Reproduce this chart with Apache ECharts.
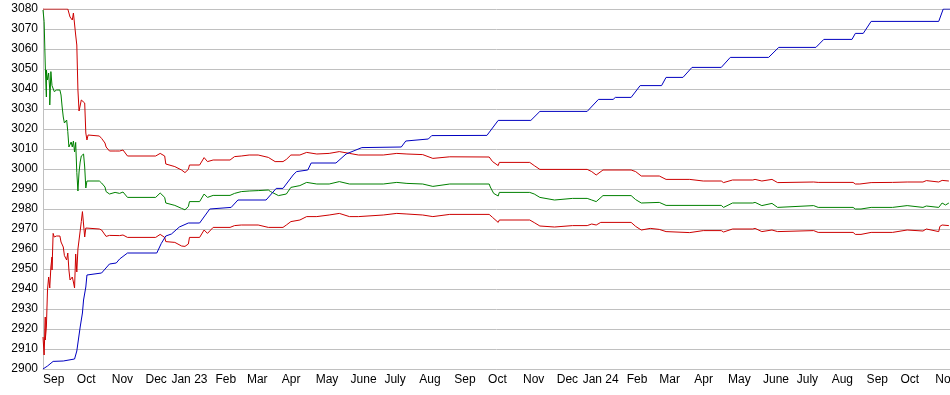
<!DOCTYPE html>
<html>
<head>
<meta charset="utf-8">
<script src="https://cdn.jsdelivr.net/npm/echarts@6/dist/echarts.min.js"></script>
<style>html,body{margin:0;padding:0;background:#fff;overflow:hidden}#c{width:962px;height:395px}</style>
</head>
<body>
<div id="c"></div>
<script>
// ---- data ----
const startDate = '2022-09-01';
const endDate = '2024-11-14';
const yMin = 2900, yMax = 3080, yStep = 10;
const monthNames = ['Jan','Feb','Mar','Apr','May','June','July','Aug','Sep','Oct','Nov','Dec'];

const blueSeries = [
 ['2022-09-01',2900],['2022-09-05',2901.5],['2022-09-10',2903.8],['2022-09-19',2904],['2022-09-20',2904.8],['2022-09-29',2905],
 ['2022-10-01',2909],['2022-10-04',2921],['2022-10-06',2928],['2022-10-07',2934.5],['2022-10-09',2941],['2022-10-10',2947],
 ['2022-10-11',2948],['2022-10-23',2948],['2022-10-30',2952.5],['2022-11-05',2953],['2022-11-08',2955],['2022-11-15',2958],
 ['2022-12-11',2958],['2022-12-15',2962.8],['2022-12-19',2966.5],['2022-12-24',2967.5],['2022-12-31',2971],['2023-01-08',2973],
 ['2023-01-18',2973],['2023-01-27',2980],['2023-02-15',2980.8],['2023-02-21',2984.5],['2023-03-18',2984.5],['2023-03-27',2990.3],
 ['2023-04-02',2990.3],['2023-04-11',2997],['2023-04-14',2998.7],['2023-04-24',2999.5],['2023-04-27',3003],['2023-05-19',3003],
 ['2023-05-28',3007.5],['2023-06-11',3010.7],['2023-07-16',3011],['2023-07-20',3014],['2023-08-09',3015],['2023-08-12',3016.7],
 ['2023-09-30',3016.8],['2023-10-10',3024.3],['2023-11-08',3024.3],['2023-11-16',3028.8],['2023-12-28',3028.8],['2024-01-07',3034.8],
 ['2024-01-20',3034.8],['2024-01-22',3035.8],['2024-02-05',3035.8],['2024-02-13',3041.7],['2024-03-03',3041.7],['2024-03-07',3045.8],
 ['2024-03-22',3045.8],['2024-03-30',3050.8],['2024-04-25',3050.8],['2024-05-03',3055.8],['2024-06-06',3055.8],['2024-06-15',3060.8],
 ['2024-07-18',3060.8],['2024-07-25',3064.8],['2024-08-19',3064.8],['2024-08-22',3067.8],['2024-08-29',3067.8],['2024-09-05',3073.8],
 ['2024-11-04',3073.8],['2024-11-08',3080],['2024-11-14',3080]
];

const upperRedSeries = [
 ['2022-09-01',3080],['2022-09-23',3080],['2022-09-25',3076],['2022-09-26',3075],['2022-09-27',3074.5],['2022-09-28',3078],
 ['2022-09-30',3067],['2022-10-01',3062],['2022-10-02',3039.5],['2022-10-03',3029],['2022-10-04',3029],['2022-10-05',3034.5],
 ['2022-10-06',3035],['2022-10-08',3033],['2022-10-09',3018],['2022-10-10',3014.5],['2022-10-11',3017],['2022-10-21',3016.5],
 ['2022-10-23',3015.3],['2022-10-26',3013],['2022-10-27',3011],['2022-10-30',3009],['2022-11-04',3009],['2022-11-05',3009.8],
 ['2022-11-08',3009],['2022-11-11',3009.5],['2022-11-15',3006.5],['2022-12-10',3006.5],['2022-12-14',3007.8],['2022-12-18',3006.5],
 ['2022-12-19',3002.5],['2022-12-27',3001.2],['2023-01-02',2999.5],['2023-01-05',2998.2],['2023-01-08',2999.8],['2023-01-09',3002],
 ['2023-01-18',3002],['2023-01-22',3005.7],['2023-01-25',3003.7],['2023-01-30',3004.5],['2023-02-14',3004.5],['2023-02-18',3006.2],
 ['2023-02-24',3006.5],['2023-03-03',3007],['2023-03-11',3007],['2023-03-20',3005.8],['2023-03-26',3003.7],['2023-04-02',3003.7],
 ['2023-04-05',3004.8],['2023-04-09',3007],['2023-04-17',3007],['2023-04-23',3008.3],['2023-05-02',3007.5],['2023-05-13',3007.8],
 ['2023-05-22',3008.7],['2023-05-31',3007.8],['2023-06-08',3007],['2023-06-30',3007],['2023-07-12',3007.8],['2023-07-21',3007.5],
 ['2023-08-04',3007.2],['2023-08-13',3005.3],['2023-08-28',3006.1],['2023-10-02',3006],['2023-10-05',3003.7],['2023-10-10',3001.7],
 ['2023-10-11',3003.3],['2023-11-07',3003.3],['2023-11-11',3001.7],['2023-11-16',2999.8],['2023-12-28',2999.8],['2024-01-01',2998.7],
 ['2024-01-05',2997],['2024-01-11',2999.5],['2024-02-05',2999.5],['2024-02-09',2998.7],['2024-02-14',2996.5],['2024-03-01',2996.5],
 ['2024-03-07',2994.8],['2024-03-28',2994.8],['2024-04-09',2994],['2024-04-25',2994],['2024-04-27',2993.2],['2024-05-05',2994.5],
 ['2024-05-23',2994.5],['2024-05-25',2994.8],['2024-05-31',2994],['2024-06-09',2994.8],['2024-06-14',2993.2],['2024-07-16',2993.5],
 ['2024-07-20',2993.3],['2024-08-20',2993.3],['2024-08-22',2992.5],['2024-08-26',2992.5],['2024-09-05',2993.2],['2024-09-24',2993.3],
 ['2024-10-07',2993.5],['2024-10-21',2993.5],['2024-10-24',2994.2],['2024-11-04',2993.5],['2024-11-07',2994.3],['2024-11-13',2994]
];

const greenSeries = [
 ['2022-09-01',3079.5],['2022-09-02',3073.7],['2022-09-03',3052],['2022-09-04',3036],['2022-09-04',3049.5],['2022-09-05',3044.5],
 ['2022-09-06',3048],['2022-09-07',3039.5],['2022-09-07',3032],['2022-09-08',3048.7],['2022-09-09',3041.7],['2022-09-10',3042.5],
 ['2022-09-11',3038.7],['2022-09-13',3039.5],['2022-09-16',3039.5],['2022-09-17',3037],['2022-09-18',3031],['2022-09-19',3026],
 ['2022-09-20',3023],['2022-09-22',3024.5],['2022-09-23',3018.7],['2022-09-24',3011],['2022-09-26',3013.5],['2022-09-27',3011],
 ['2022-09-28',3014],['2022-09-29',3008.5],['2022-09-30',3013.3],['2022-10-01',2998.3],['2022-10-02',2989],['2022-10-03',2998.5],
 ['2022-10-04',3003.5],['2022-10-05',3006.5],['2022-10-07',3007.5],['2022-10-08',3001],['2022-10-09',2990.5],['2022-10-10',2994],
 ['2022-10-21',2994],['2022-10-23',2993],['2022-10-26',2991],['2022-10-27',2988.7],['2022-10-30',2987.5],['2022-11-04',2988.3],
 ['2022-11-08',2987.8],['2022-11-11',2988.5],['2022-11-15',2985.8],['2022-12-10',2985.8],['2022-12-14',2988],['2022-12-18',2985.8],
 ['2022-12-19',2983],['2022-12-27',2981.8],['2023-01-02',2980.3],['2023-01-05',2979.6],['2023-01-08',2981.2],['2023-01-09',2983.7],
 ['2023-01-18',2983.7],['2023-01-22',2987.5],['2023-01-25',2985.8],['2023-01-30',2986.8],['2023-02-14',2986.8],['2023-02-18',2987.8],
 ['2023-02-24',2988.7],['2023-03-03',2989],['2023-03-11',2989.2],['2023-03-20',2989.5],['2023-03-22',2988.7],['2023-03-29',2986.7],
 ['2023-04-05',2987.5],['2023-04-09',2990.8],['2023-04-17',2991.7],['2023-04-23',2993.3],['2023-05-02',2992.5],['2023-05-13',2992.5],
 ['2023-05-22',2993.7],['2023-05-31',2992.5],['2023-06-30',2992.5],['2023-07-12',2993.3],['2023-07-21',2992.8],['2023-08-04',2992.5],
 ['2023-08-13',2991.3],['2023-08-28',2992.5],['2023-10-02',2992.5],['2023-10-03',2991],['2023-10-06',2987.8],['2023-10-10',2986.5],
 ['2023-10-11',2988.3],['2023-11-07',2988.3],['2023-11-11',2987.5],['2023-11-16',2985.8],['2023-11-29',2984.5],['2023-12-15',2985.3],
 ['2023-12-28',2985.3],['2024-01-01',2984.5],['2024-01-05',2983.7],['2024-01-11',2986.7],['2024-02-05',2986.7],['2024-02-09',2984.7],
 ['2024-02-14',2983],['2024-03-01',2983.3],['2024-03-07',2981.8],['2024-04-25',2981.8],['2024-04-27',2980.8],['2024-05-05',2983],
 ['2024-05-23',2983],['2024-05-25',2983.3],['2024-05-31',2981.7],['2024-06-09',2982.8],['2024-06-14',2980.8],['2024-07-16',2981.7],
 ['2024-07-20',2980.8],['2024-08-20',2980.8],['2024-08-22',2980],['2024-08-27',2980],['2024-09-05',2980.8],['2024-09-24',2980.8],
 ['2024-10-07',2981.7],['2024-10-21',2980.8],['2024-10-24',2981.5],['2024-11-04',2980.8],['2024-11-07',2983],['2024-11-10',2982],
 ['2024-11-13',2983]
];

const lowerRedSeries = [
 ['2022-09-01',2916],['2022-09-02',2907],['2022-09-03',2926],['2022-09-03',2914.5],['2022-09-04',2921],['2022-09-05',2939.5],
 ['2022-09-06',2946],['2022-09-07',2940.5],['2022-09-08',2951],['2022-09-09',2956],['2022-09-09',2949.5],['2022-09-10',2967.8],
 ['2022-09-11',2966],['2022-09-13',2966.5],['2022-09-16',2966.5],['2022-09-17',2963.5],['2022-09-19',2961],['2022-09-20',2956.7],
 ['2022-09-22',2954.5],['2022-09-23',2958],['2022-09-24',2949.5],['2022-09-25',2944.5],['2022-09-27',2946],['2022-09-28',2943.5],
 ['2022-09-29',2940.5],['2022-09-30',2957.5],['2022-10-01',2948.5],['2022-10-02',2960],['2022-10-03',2964.5],['2022-10-05',2973.7],
 ['2022-10-06',2978.7],['2022-10-07',2978.7],['2022-10-08',2966],['2022-10-09',2970.5],['2022-10-21',2970],['2022-10-23',2969.5],
 ['2022-10-27',2966.3],['2022-10-30',2966.8],['2022-11-08',2966.7],['2022-11-11',2967],['2022-11-15',2965.8],['2022-12-10',2965.8],
 ['2022-12-14',2967.3],['2022-12-18',2965.8],['2022-12-19',2963.7],['2022-12-27',2963.3],['2023-01-02',2961.5],['2023-01-05',2961.3],
 ['2023-01-08',2962.5],['2023-01-09',2965.8],['2023-01-18',2965.8],['2023-01-22',2969.5],['2023-01-25',2967.8],['2023-01-30',2970.8],
 ['2023-02-14',2970.8],['2023-02-18',2971.7],['2023-02-24',2972],['2023-03-11',2972],['2023-03-20',2970.8],['2023-04-02',2970.8],
 ['2023-04-05',2972],['2023-04-09',2973.7],['2023-04-17',2974.5],['2023-04-23',2976.2],['2023-05-02',2976.2],['2023-05-13',2977],
 ['2023-05-22',2977.8],['2023-05-31',2976.2],['2023-06-08',2976.2],['2023-06-30',2977],['2023-07-12',2977.8],['2023-07-21',2977.5],
 ['2023-08-04',2977],['2023-08-13',2976.2],['2023-08-28',2977.3],['2023-10-02',2977.3],['2023-10-05',2975.8],['2023-10-10',2973.3],
 ['2023-10-11',2974.5],['2023-11-07',2974.5],['2023-11-11',2973.2],['2023-11-16',2971.5],['2023-11-29',2971],['2023-12-15',2971.7],
 ['2023-12-28',2971.7],['2024-01-01',2972.5],['2024-01-05',2972],['2024-01-09',2973.3],['2024-02-05',2973.3],['2024-02-09',2971.3],
 ['2024-02-14',2969.5],['2024-02-22',2970.3],['2024-03-01',2969.8],['2024-03-07',2968.7],['2024-03-28',2968.2],['2024-04-09',2969.2],
 ['2024-04-25',2969.2],['2024-04-27',2968.5],['2024-05-05',2970],['2024-05-23',2970],['2024-05-25',2970.3],['2024-05-31',2968.7],
 ['2024-06-09',2969.5],['2024-06-14',2968.7],['2024-07-16',2969.2],['2024-07-20',2968.3],['2024-08-20',2968.3],['2024-08-22',2967.3],
 ['2024-08-27',2967.3],['2024-09-05',2968.3],['2024-09-24',2968.3],['2024-10-07',2969.5],['2024-10-21',2969],['2024-10-24',2970],
 ['2024-11-04',2968.7],['2024-11-05',2971.3],['2024-11-07',2972],['2024-11-13',2971.7]
];

// ---- chart ----
const DAY = 86400000;
const t0 = new Date(startDate + 'T00:00:00').getTime();
const t1 = new Date(endDate + 'T00:00:00').getTime();
const janShift = 8 * DAY;
const font = "'Liberation Sans', Arial, sans-serif";
const gridColor = '#c0c0c0';

const chart = echarts.init(document.getElementById('c'), null, {renderer: 'canvas'});
const baseX = {
  type: 'time', gridIndex: 0, position: 'bottom',
  minInterval: 28 * DAY, maxInterval: 31 * DAY, splitNumber: 30,
  axisTick: {show: false}, splitLine: {show: false}
};
chart.setOption({
  animation: false,
  backgroundColor: '#fff',
  grid: {left: 43, right: 12, top: 9, bottom: 26, containLabel: false},
  xAxis: [
    Object.assign({}, baseX, {
      min: t0, max: t1,
      axisLine: {show: true, lineStyle: {color: gridColor, width: 1}},
      axisLabel: {
        show: true, align: 'left', margin: 5, fontSize: 12, fontFamily: font, color: '#000',
        hideOverlap: false, showMinLabel: true, showMaxLabel: false,
        formatter: function (v) { const d = new Date(v); return d.getMonth() === 0 ? '' : monthNames[d.getMonth()]; }
      }
    }),
    Object.assign({}, baseX, {
      min: t0 + janShift, max: t1 + janShift,
      axisLine: {show: false},
      axisLabel: {
        show: true, align: 'left', margin: 5, fontSize: 12, fontFamily: font, color: '#000',
        hideOverlap: false, showMinLabel: false, showMaxLabel: false,
        formatter: function (v) { const d = new Date(v); return d.getMonth() === 0 ? 'Jan ' + String(d.getFullYear()).slice(2) : ''; }
      }
    })
  ],
  yAxis: {
    type: 'value', min: yMin, max: yMax, interval: yStep,
    axisLine: {show: true, lineStyle: {color: gridColor, width: 1}},
    axisTick: {show: false},
    splitLine: {show: true, lineStyle: {color: gridColor, width: 1}},
    axisLabel: {margin: 5, fontSize: 12, fontFamily: font, color: '#000', formatter: function (v) { return String(v); }}
  },
  series: [
    {name: 'lower', type: 'line', data: lowerRedSeries, showSymbol: false, lineStyle: {color: '#cc0000', width: 1}, itemStyle: {color: '#cc0000'}},
    {name: 'mid', type: 'line', data: greenSeries, showSymbol: false, lineStyle: {color: '#008000', width: 1}, itemStyle: {color: '#008000'}},
    {name: 'upper', type: 'line', data: upperRedSeries, showSymbol: false, lineStyle: {color: '#cc0000', width: 1}, itemStyle: {color: '#cc0000'}},
    {name: 'blue', type: 'line', data: blueSeries, showSymbol: false, lineStyle: {color: '#0000c0', width: 1}, itemStyle: {color: '#0000c0'}}
  ]
});
</script>
</body>
</html>
